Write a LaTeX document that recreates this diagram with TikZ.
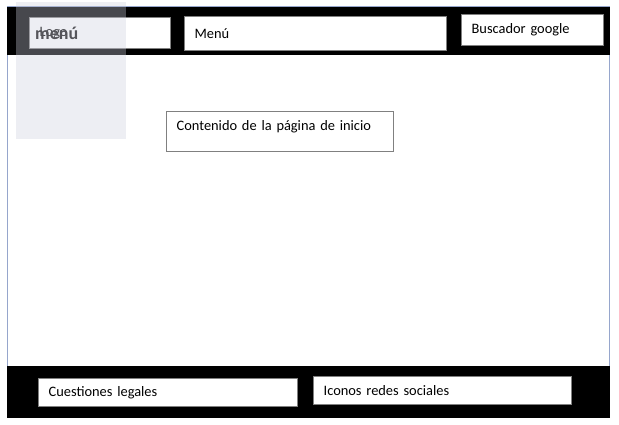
\documentclass[tikz,border=0pt]{standalone}
\usepackage{fontspec}
\setmainfont{Carlito}[WordSpace=0.7]
\usepackage{tikz}
\definecolor{framecol}{RGB}{150,166,204}
\definecolor{boxline}{RGB}{128,128,128}
\definecolor{veil}{RGB}{206,208,222}
\definecolor{veiltext}{RGB}{85,85,90}
\newcommand\boxfont{\fontsize{14.4}{16}\selectfont}
\tikzstyle{band}=[fill=black]
\tikzstyle{box}=[rectangle,draw=boxline,line width=1.3pt,fill=white,anchor=north west,align=left,inner xsep=10pt,inner ysep=0pt,font=\boxfont]
\tikzstyle{veilbox}=[fill=veil,opacity=.35]
\begin{document}
\begin{tikzpicture}[x=1pt,y=-1pt]
	\useasboundingbox (0,0) rectangle (619,425);
	% page and the two black bands
	\draw[draw=framecol,line width=1pt,fill=white] (7.5,7) rectangle (609,417);
	\fill[band] (7,7) rectangle (609.5,55);
	\fill[band] (7,366) rectangle (609.5,417.5);
	% header
	\node[box,text width=121pt,minimum height=31pt] (logo) at (29,17) {Logo};
	\node[box,text width=242pt,minimum height=34pt] (menu) at (184,16) {Menú};
	\node[box,text width=122pt,minimum height=31pt] (buscador) at (461,14) {Buscador google};
	% content
	\node[box,text width=207pt,inner ysep=5pt,text height=14pt,text depth=16pt] (contenido) at (166,111) {Contenido de la página de inicio};
	% footer
	\node[box,text width=239pt,minimum height=28pt] (legal) at (38,378) {Cuestiones legales};
	\node[box,text width=238pt,minimum height=28pt] (redes) at (313,376) {Iconos redes sociales};
	% side menu laid over the page
	\fill[veilbox] (16,2) rectangle (126,139);
	\node[anchor=west,inner sep=0pt,text=veiltext,font=\fontsize{18}{20}\selectfont\bfseries] (sidemenu) at (35,33) {menú};
\end{tikzpicture}
\end{document}
